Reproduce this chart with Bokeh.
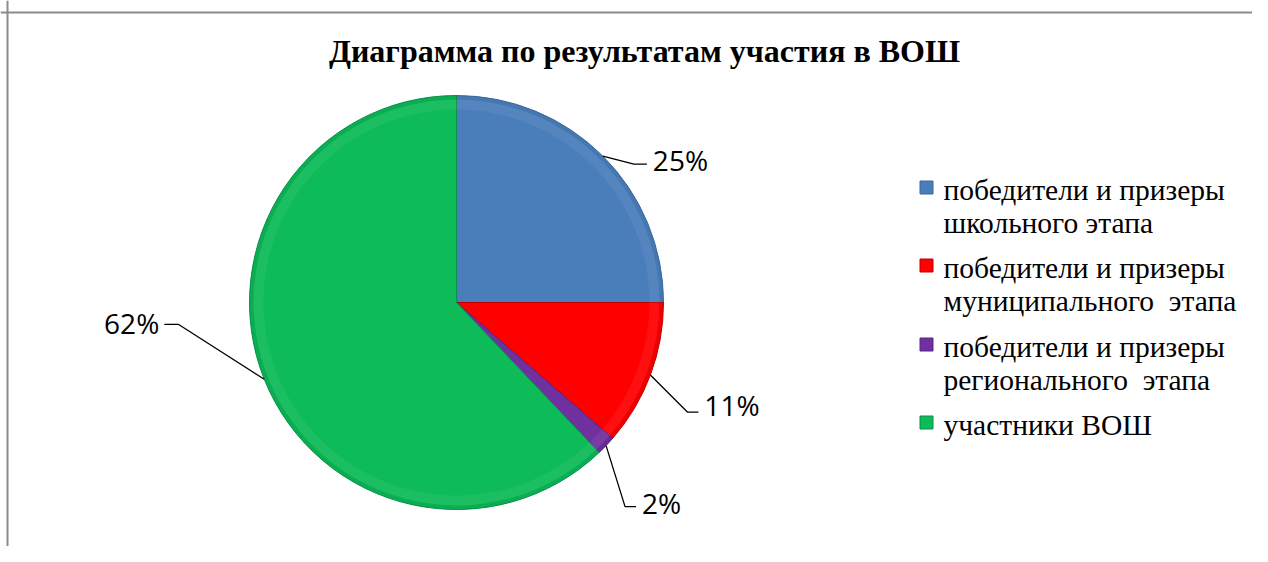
import math
from bokeh.plotting import figure
from bokeh.models import Range1d, Span, ColumnDataSource
from bokeh.embed import file_html
from bokeh.resources import INLINE
from bokeh.core.properties import value

# ---------------- data ----------------
title_text = "Диаграмма по результатам участия в ВОШ"
categories = [
    "победители и призеры школьного этапа",
    "победители и призеры муниципального  этапа",
    "победители и призеры регионального  этапа",
    "участники ВОШ",
]
legend_lines = [
    ["победители и призеры", "школьного этапа"],
    ["победители и призеры", "муниципального\u00a0\u00a0этапа"],
    ["победители и призеры", "регионального\u00a0\u00a0этапа"],
    ["участники ВОШ"],
]
shares = [25.0, 11.4, 1.5, 62.1]
labels = ["25%", "11%", "2%", "62%"]
colors = ["#4A7EBB", "#FF0000", "#7030A0", "#0DBB58"]
edge_colors = ["#3A679C", "#C00000", "#582480", "#08904A"]

# ---------------- layout ----------------
W, H = 1252, 546
def X(px):
    return px
def Y(py):
    return H - py
def TY(py, fs):
    # baseline correction for svg text rendering
    return H - py + 0.3 * fs

cx, cy, R = X(456), Y(302), 207
# leader elbow offsets (page px: dx, dy down) and horizontal tail length/side
elbow = [(31, 8), (37, 37), (19, 61), (-86, -55)]
tail = [13, 11, 11, -14]
label_dy = [1, -2, 2, 4]

p = figure(width=W, height=H, x_range=Range1d(0, W), y_range=Range1d(0, H),
           output_backend="svg", toolbar_location=None, min_border=0)
p.axis.visible = False
p.grid.visible = False
p.outline_line_color = None
p.background_fill_color = "white"
p.border_fill_color = "white"

# chart frame
p.add_layout(Span(location=X(7), dimension="height", line_color="#8C8C8C", line_width=2))
p.add_layout(Span(location=Y(12), dimension="width", line_color="#8C8C8C", line_width=2))

# pie angles (start at 12 o'clock, clockwise)
total = sum(shares)
starts, ends, mids = [], [], []
cum = 0.0
for s in shares:
    a_before = math.pi / 2 - 2 * math.pi * cum / total
    cum += s
    a_after = math.pi / 2 - 2 * math.pi * cum / total
    starts.append(a_after)
    ends.append(a_before)
    mids.append((a_before + a_after) / 2)

src = ColumnDataSource(dict(start=starts, end=ends, color=colors, edge=edge_colors))
p.wedge(x=cx, y=cy, radius=R, start_angle="start", end_angle="end",
        fill_color="color", line_color="edge", line_width=1, source=src)
# bevel: soft highlight inside the rim and slightly darker rim
p.annular_wedge(x=cx, y=cy, inner_radius=R - 14, outer_radius=R - 4,
                start_angle="start", end_angle="end", fill_color="white",
                fill_alpha=0.06, line_color=None, source=src)
p.annular_wedge(x=cx, y=cy, inner_radius=R - 4, outer_radius=R,
                start_angle="start", end_angle="end", fill_color="edge",
                fill_alpha=0.3, line_color=None, source=src)

# data labels with leader lines
LFS = 28
lx, ly, tx, ty, align = [], [], [], [], []
for i, m in enumerate(mids):
    ex, ey = cx + R * math.cos(m), cy + R * math.sin(m)
    bx, by = ex + elbow[i][0], ey - elbow[i][1]
    hx = bx + tail[i]
    lx.append([ex, bx, hx])
    ly.append([ey, by, by])
    if tail[i] > 0:
        tx.append(hx + 6); align.append("left")
    else:
        tx.append(hx - 5); align.append("right")
    ty.append(by - 3 - label_dy[i] + 0.3 * LFS)
p.multi_line(xs=lx, ys=ly, line_color="black", line_width=1.3)
p.text(x=tx, y=ty, text=labels, text_align=align, text_baseline="alphabetic",
       text_font=value("Open Sans"), text_font_size=f"{LFS}px", text_color="black")

# title
TFS = 32
p.text(x=[X(644)], y=[TY(60, TFS)], text=[title_text], text_align="center",
       text_baseline="alphabetic", text_font=value("Liberation Serif"),
       text_font_style="bold", text_font_size=f"{TFS}px", text_color="black")

# legend
GFS = 29.5
sq_x, sq_y, sq_c = [], [], []
lt_x, lt_y, lt_t = [], [], []
first_baselines = [198, 276, 355, 433]
for i, lines in enumerate(legend_lines):
    b = first_baselines[i]
    sq_x.append(X(926)); sq_y.append(Y(b - 11)); sq_c.append(colors[i])
    for j, t in enumerate(lines):
        lt_x.append(X(943)); lt_y.append(TY(b + 33 * j, GFS)); lt_t.append(t)
p.rect(x=sq_x, y=sq_y, width=13, height=13, width_units="screen", height_units="screen",
       fill_color=sq_c, line_color=[edge_colors[k] for k in range(4)], line_width=1)
p.text(x=lt_x, y=lt_y, text=lt_t, text_align="left", text_baseline="alphabetic",
       text_font=value("Liberation Serif"), text_font_size=f"{GFS}px", text_color="black")

open("out.html", "w").write(file_html(p, INLINE))
